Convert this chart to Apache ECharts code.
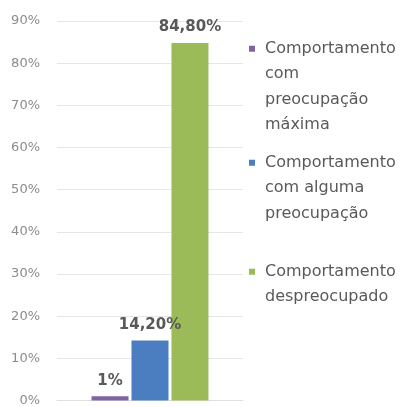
<!DOCTYPE html>
<html><head><meta charset="utf-8">
<script src="https://cdn.jsdelivr.net/npm/echarts@6/dist/echarts.min.js"></script>
<style>html,body{margin:0;padding:0;background:#fff}#c{width:405px;height:407px}</style>
</head><body><div id="c"></div>
<script>
const categories = ['Comportamento'];
const seriesNames = ['Comportamento com preocupação máxima', 'Comportamento com alguma preocupação', 'Comportamento despreocupado'];
const legendLines = [
  ['Comportamento', 'com', 'preocupação', 'máxima'],
  ['Comportamento', 'com alguma', 'preocupação'],
  ['Comportamento', 'despreocupado']
];
const values = [1, 14.2, 84.8];
const valueLabels = ['1%', '14,20%', '84,80%'];
const yTicks = [0, 10, 20, 30, 40, 50, 60, 70, 80, 90];
const colors = ['#8064a2', '#4a7ec0', '#9bbb59'];
const legendTops = [36, 150, 259];

const FONT = 'DejaVu Sans';
const LH = 25.5;

const series = seriesNames.map((n, i) => ({
  name: n,
  type: 'bar',
  data: [values[i]],
  barWidth: 37,
  barGap: '8%',
  itemStyle: { color: colors[i] },
  label: {
    show: true, position: 'top', distance: 8,
    formatter: () => valueLabels[i],
    fontFamily: FONT, fontWeight: 'bold', fontSize: 15, color: '#595959'
  }
}));

const legends = seriesNames.map((n, i) => ({
  data: [{ name: n, icon: 'none' }],
  orient: 'vertical',
  left: 243, top: legendTops[i],
  itemWidth: 1, itemHeight: 1,
  padding: 0,
  selectedMode: false,
  formatter: () => legendLines[i].map((l, k) => k === 0 ? '{sq| }{t|' + l + '}' : '{u|' + l + '}').join('\n'),
  textStyle: {
    fontFamily: FONT, fontSize: 16, color: '#595959', lineHeight: LH,
    rich: {
      sq: { width: 6, height: 6, backgroundColor: colors[i], lineHeight: LH },
      t: { fontFamily: FONT, fontSize: 16, color: '#595959', padding: [0, 0, 0, 10], lineHeight: LH },
      u: { fontFamily: FONT, fontSize: 16, color: '#595959', padding: [0, 0, 0, 16], lineHeight: LH }
    }
  }
}));

const chart = echarts.init(document.getElementById('c'), null, { renderer: 'canvas' });
chart.setOption({
  animation: false,
  backgroundColor: '#fff',
  grid: { left: 57, right: 162, top: 21, bottom: 4, containLabel: false },
  legend: legends,
  xAxis: {
    type: 'category', data: categories,
    axisLine: { show: true, lineStyle: { color: '#e0e0e0' } },
    axisTick: { show: false }, axisLabel: { show: false }
  },
  yAxis: {
    type: 'value', min: yTicks[0], max: yTicks[yTicks.length - 1], interval: 10,
    axisLine: { show: false }, axisTick: { show: false },
    axisLabel: { formatter: v => v + '%', fontFamily: FONT, fontSize: 13, color: '#8c8c8c', margin: 17 },
    splitLine: { lineStyle: { color: '#e6e6e6' } }
  },
  series: series
});
</script></body></html>
